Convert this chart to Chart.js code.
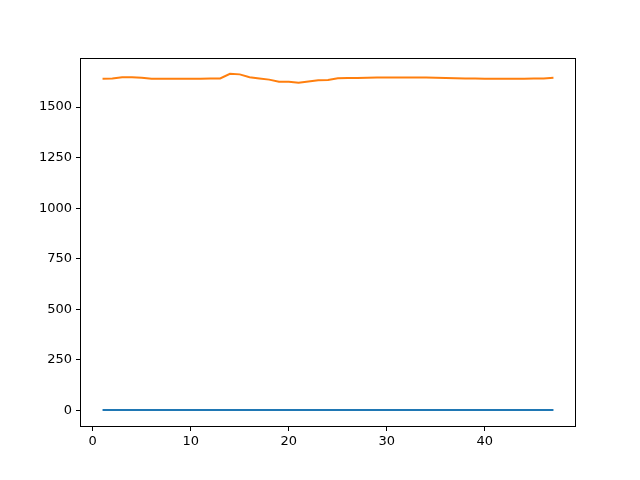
<!DOCTYPE html>
<html lang="en">
<head>
    <meta charset="utf-8" />
    <title>Chart</title>
    <style>
        body { margin: 0; background: #fff; }
    </style>
</head>
<body>
    <canvas id="chart" width="640" height="480"></canvas>
    <script src="https://cdn.jsdelivr.net/npm/chart.js@4.4.1/dist/chart.umd.min.js"></script>
    <script>
        const xValues = [1, 2, 3, 4, 5, 6, 7, 8, 9, 10, 11, 12, 13, 14, 15, 16, 17, 18, 19, 20,
            21, 22, 23, 24, 25, 26, 27, 28, 29, 30, 31, 32, 33, 34, 35, 36, 37, 38, 39, 40,
            41, 42, 43, 44, 45, 46, 47];
        const blueSeries = [1, 1, 1, 1, 1, 1, 1, 1, 1, 1, 1, 1, 1, 1, 1, 1, 1, 1, 1, 1,
            1, 1, 1, 1, 1, 1, 1, 1, 1, 1, 1, 1, 1, 1, 1, 1, 1, 1, 1, 1,
            1, 1, 1, 1, 1, 1, 1];
        const orangeSeries = [1640, 1641, 1648, 1648, 1645, 1640, 1640, 1640, 1640, 1640,
            1640, 1642, 1642, 1665, 1662, 1648, 1642, 1636, 1625, 1625,
            1621, 1627, 1633, 1634, 1643, 1644, 1644, 1645, 1646, 1647,
            1647, 1647, 1647, 1646, 1645, 1644, 1643, 1642, 1641, 1640,
            1640, 1640, 1640, 1640, 1641, 1642, 1645];
        const xTicks = [0, 10, 20, 30, 40];
        const yTicks = [0, 250, 500, 750, 1000, 1250, 1500];

        function toPoints(ys) {
            return xValues.map(function (x, i) { return { x: x, y: ys[i] }; });
        }

        // box around the plot area, like matplotlib spines
        const frame = {
            id: 'frame',
            afterDraw: function (chart) {
                const a = chart.chartArea;
                const c = chart.ctx;
                c.save();
                c.strokeStyle = '#000';
                c.lineWidth = 1;
                c.strokeRect(Math.round(a.left) + 0.5, Math.round(a.top) + 0.5,
                    Math.round(a.right - a.left) - 1, Math.round(a.bottom - a.top) - 1);
                c.restore();
            }
        };

        const tickFont = { family: 'DejaVu Sans', size: 13 };
        const plain = function (v) { return String(v); };

        new Chart(document.getElementById('chart').getContext('2d'), {
            type: 'line',
            data: {
                datasets: [{
                    data: toPoints(blueSeries),
                    borderColor: '#1f77b4',
                    borderWidth: 2,
                    pointRadius: 0,
                    tension: 0
                }, {
                    data: toPoints(orangeSeries),
                    borderColor: '#ff7f0e',
                    borderWidth: 2,
                    pointRadius: 0,
                    tension: 0
                }]
            },
            options: {
                responsive: false,
                animation: false,
                layout: { padding: { top: 58, right: 64, left: 0, bottom: 0 } },
                plugins: { legend: { display: false }, tooltip: { enabled: false } },
                scales: {
                    x: {
                        type: 'linear',
                        min: -1.3,
                        max: 49.3,
                        afterBuildTicks: function (axis) {
                            axis.ticks = xTicks.map(function (v) { return { value: v }; });
                        },
                        afterFit: function (axis) { axis.height = 53; },
                        grid: { drawOnChartArea: false, drawTicks: true, tickLength: 4, color: '#000' },
                        border: { display: false },
                        ticks: { color: '#000', font: tickFont, padding: 3, maxRotation: 0, callback: plain }
                    },
                    y: {
                        type: 'linear',
                        min: -83,
                        max: 1743,
                        afterBuildTicks: function (axis) {
                            axis.ticks = yTicks.map(function (v) { return { value: v }; });
                        },
                        afterFit: function (axis) { axis.width = 80; },
                        grid: { drawOnChartArea: false, drawTicks: true, tickLength: 4, color: '#000' },
                        border: { display: false },
                        ticks: { color: '#000', font: tickFont, padding: 4, callback: plain }
                    }
                }
            },
            plugins: [frame]
        });
    </script>
</body>
</html>
